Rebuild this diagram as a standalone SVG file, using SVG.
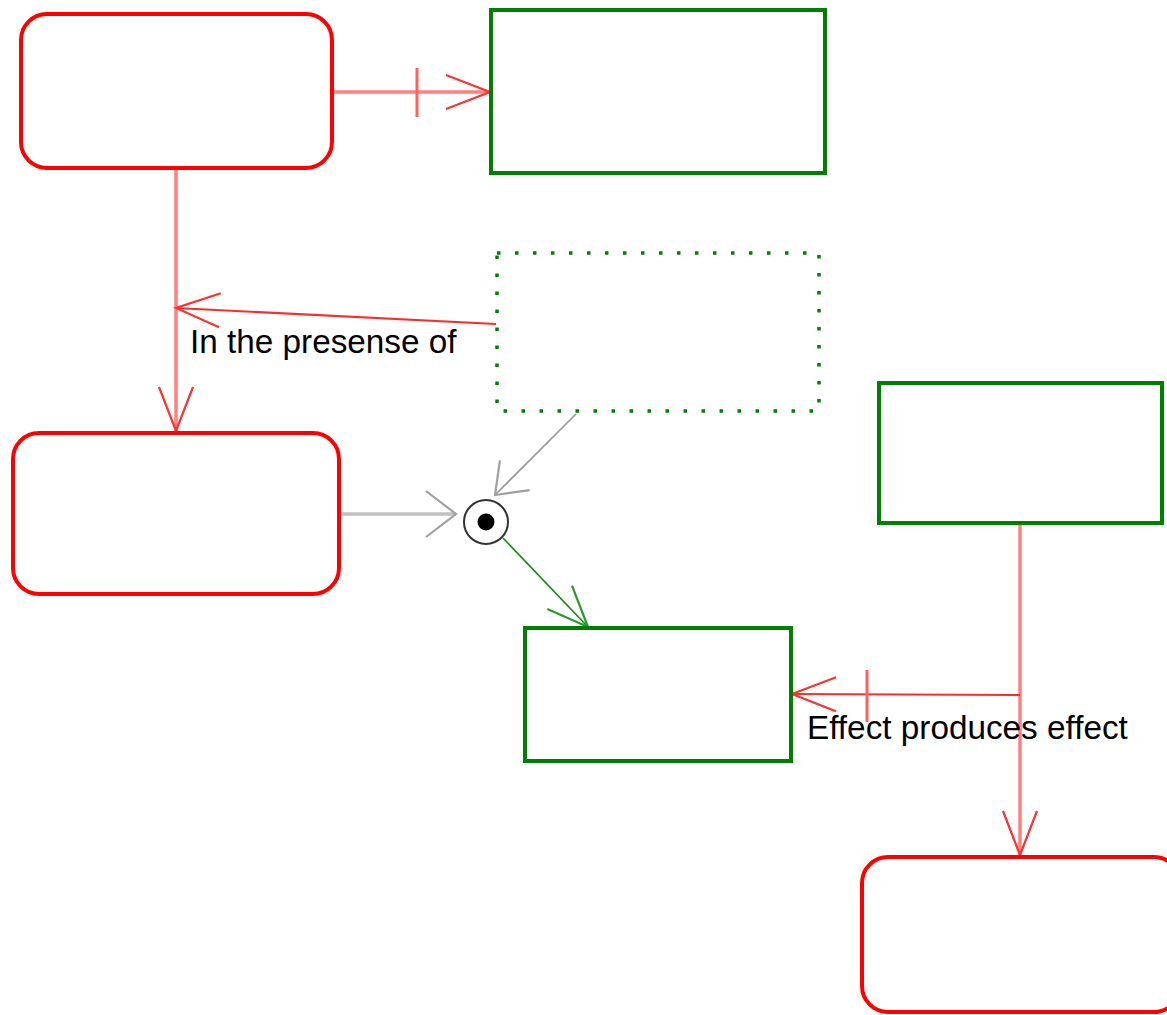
<svg xmlns="http://www.w3.org/2000/svg" width="1167" height="1015" viewBox="0 0 1167 1015">
<style>
.state{fill:#ffffff;stroke:#ff0000;stroke-width:4}
.box{fill:#ffffff;stroke:#008000;stroke-width:4}
.dotted{fill:#ffffff;stroke:#008000;stroke-width:3.5;stroke-dasharray:3.5 14.5}
.red{fill:none;stroke:#ff8080;stroke-width:3.5}
.redthin{fill:none;stroke:#ff2a2a;stroke-width:2.2}
.tick{fill:none;stroke:#ff6060;stroke-width:3}
.grey{fill:none;stroke:#c0c0c0;stroke-width:3.5}
.greythin{fill:none;stroke:#999999;stroke-width:1.7}
.green{fill:none;stroke:#1a8a1a;stroke-width:1.7}
.label{font-family:"Liberation Sans",Arial,sans-serif;font-size:33.3px;fill:#000000}
</style>
<defs>
<marker id="arRed" markerUnits="userSpaceOnUse" markerWidth="60" markerHeight="60" viewBox="-50 -25 60 50" refX="0" refY="0" orient="auto">
<path d="M-44,-17 L0,0 L-44,17" fill="none" stroke="#ff3030" stroke-width="2.2"/>
</marker>
<marker id="arGrey" markerUnits="userSpaceOnUse" markerWidth="60" markerHeight="60" viewBox="-40 -30 50 60" refX="0" refY="0" orient="auto">
<path d="M-30,-23 L0,0 L-30,23" fill="none" stroke="#a0a0a0" stroke-width="2.2"/>
</marker>
<marker id="arGreyThin" markerUnits="userSpaceOnUse" markerWidth="60" markerHeight="60" viewBox="-40 -30 50 60" refX="0" refY="0" orient="auto">
<path d="M-28,-21 L0,0 L-28,21" fill="none" stroke="#a0a0a0" stroke-width="2.2"/>
</marker>
<marker id="arGreen" markerUnits="userSpaceOnUse" markerWidth="60" markerHeight="60" viewBox="-50 -25 60 50" refX="0" refY="0" orient="auto">
<path d="M-41,-17 L0,0 L-41,17" fill="none" stroke="#2a9a2a" stroke-width="2.2"/>
</marker>
</defs>
<g id="connectors">
<line class="red" x1="334" y1="92" x2="490" y2="92" marker-end="url(#arRed)"/>
<line class="tick" x1="417" y1="68" x2="417" y2="117"/>
<line class="red" x1="176" y1="170" x2="176" y2="431" marker-end="url(#arRed)"/>
<line class="redthin" x1="496" y1="324" x2="176" y2="308" marker-end="url(#arRed)"/>
<text class="label" x="190" y="353">In the presense of</text>
<line class="grey" x1="341" y1="514" x2="456" y2="514" marker-end="url(#arGrey)"/>
<line class="greythin" x1="576" y1="414" x2="495" y2="495" marker-end="url(#arGreyThin)"/>
<line class="green" x1="503" y1="538" x2="588" y2="627" marker-end="url(#arGreen)"/>
<line class="red" x1="1020" y1="525" x2="1020" y2="855" marker-end="url(#arRed)"/>
<line class="redthin" x1="1020" y1="695" x2="792" y2="694" marker-end="url(#arRed)"/>
<line class="tick" x1="867" y1="670" x2="867" y2="722"/>
<text class="label" x="807" y="739">Effect produces effect</text>
</g>
<g id="node1"><rect class="state" x="21" y="14" width="311" height="154" rx="26"/></g>
<g id="node2"><rect class="box" x="491" y="10" width="334" height="163"/></g>
<g id="node3"><rect class="dotted" x="497" y="253" width="322" height="158"/></g>
<g id="node4"><rect class="state" x="13" y="433" width="326" height="161" rx="26"/></g>
<g id="node5"><rect class="box" x="879" y="383" width="283" height="140"/></g>
<g id="node6"><rect class="box" x="525" y="628" width="266" height="133"/></g>
<g id="node7"><rect class="state" x="862" y="857" width="318" height="155" rx="26"/></g>
<g id="junction">
<circle cx="486" cy="522" r="22" fill="#ffffff" stroke="#333333" stroke-width="2"/>
<circle cx="486" cy="522" r="8.5" fill="#000000"/>
</g>
</svg>
